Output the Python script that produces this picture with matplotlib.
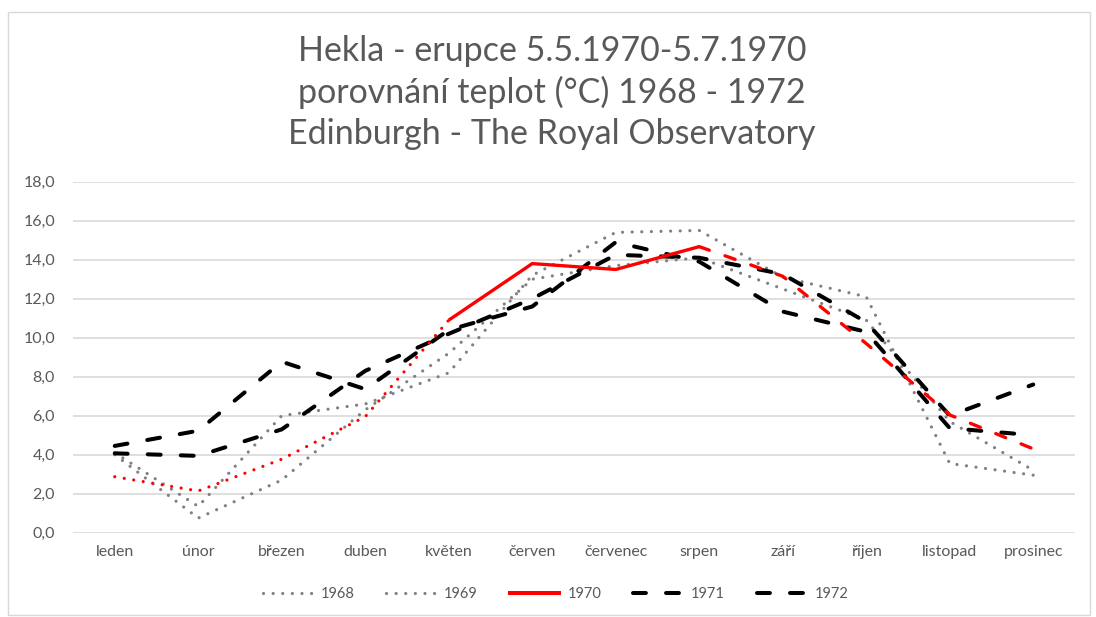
import matplotlib
matplotlib.use("Agg")
import matplotlib.pyplot as plt
from matplotlib.lines import Line2D
from matplotlib.patches import Rectangle

months = ["leden", "únor", "březen", "duben", "květen", "červen",
          "červenec", "srpen", "září", "říjen", "listopad", "prosinec"]
y1968 = [4.1, 1.35, 6.0, 6.6, 8.2, 13.2, 15.4, 15.5, 13.1, 12.1, 3.55, 2.95]
y1969 = [4.0, 0.75, 2.7, 6.3, 9.2, 13.0, 13.7, 14.1, 12.5, 10.9, 5.7, 3.2]
y1970 = [2.87, 2.14, 3.77, 5.95, 10.9, 13.8, 13.5, 14.67, 13.15, 9.7, 6.04, 4.3]
y1971 = [4.45, 5.23, 8.77, 7.36, 10.4, 11.6, 14.9, 13.9, 11.34, 10.3, 5.36, 5.0]
y1972 = [4.07, 3.94, 5.3, 8.3, 10.2, 12.0, 14.25, 14.1, 13.26, 10.8, 6.0, 7.6]
yticks = [0, 2, 4, 6, 8, 10, 12, 14, 16, 18]
title_lines = ["Hekla - erupce 5.5.1970-5.7.1970",
               "porovnání teplot (°C) 1968 - 1972",
               "Edinburgh - The Royal Observatory"]

FONT = "Lato"
TXT = "#595959"
GRID = "#d9d9d9"
GRAY = "#808080"

W, H = 1096, 617
fig = plt.figure(figsize=(W / 100, H / 100), dpi=100)
fig.patches.append(Rectangle((8 / W, 0.004), (1090 - 8) / W, 1 - 12 / H - 0.004,
                             transform=fig.transFigure, fill=False,
                             edgecolor=GRID, linewidth=1))

left, right, top, bottom = 73, 1075, 181.7, 532.7
ax = fig.add_axes([left / W, 1 - bottom / H, (right - left) / W, (bottom - top) / H])
ax.set_xlim(-0.5, 11.5)
ax.set_ylim(0, 18)
ax.set_yticks(yticks)
ax.set_yticklabels([f"{v:.1f}".replace(".", ",") for v in yticks])
ax.set_xticks(range(len(months)))
ax.set_xticklabels(months)
for s in ax.spines.values():
    s.set_visible(False)
ax.grid(axis="y", color=GRID, linewidth=1.2)
ax.set_axisbelow(True)
ax.tick_params(length=0, labelsize=11.5, labelcolor=TXT)
ax.tick_params(axis="y", pad=13)
ax.tick_params(axis="x", pad=9)
for lab in ax.get_xticklabels() + ax.get_yticklabels():
    lab.set_fontfamily(FONT)

x = list(range(12))
dot = (0, (0.01, 3.0))
dash = (0, (3.2, 5.0))
kw_dot = dict(color=GRAY, linewidth=2.3, linestyle=dot, dash_capstyle="round")
kw_dash = dict(color="black", linewidth=2.9, linestyle=dash, dash_capstyle="round")

ax.plot(x, y1968, **kw_dot)
ax.plot(x, y1969, **kw_dot)
ax.plot(x, y1971, **kw_dash)
ax.plot(x, y1972, **kw_dash)
ax.plot(x[0:5], y1970[0:5], color="red", linewidth=2.3, linestyle=dot, dash_capstyle="round")
ax.plot(x[4:8], y1970[4:8], color="red", linewidth=2.4, linestyle="-", solid_capstyle="butt")
ax.plot(x[7:], y1970[7:], color="red", linewidth=2.4, linestyle=dash, dash_capstyle="round")

handles = [Line2D([], [], **kw_dot), Line2D([], [], **kw_dot),
           Line2D([], [], color="red", linewidth=2.9),
           Line2D([], [], **kw_dash), Line2D([], [], **kw_dash)]
leg = fig.legend(handles, ["1968", "1969", "1970", "1971", "1972"],
                 loc="center", bbox_to_anchor=(0.507, 1 - 594 / H), ncol=5,
                 frameon=False, handlelength=3.4, handletextpad=0.55,
                 columnspacing=2.2, prop={"family": FONT, "size": 10.5})
for t in leg.get_texts():
    t.set_color(TXT)

baselines = [61, 103, 144]
for line, b in zip(title_lines, baselines):
    fig.text(552 / W, 1 - b / H, line, ha="center", va="baseline",
             fontsize=24.5, color=TXT, family=FONT)

fig.savefig("out.png", dpi=100)
